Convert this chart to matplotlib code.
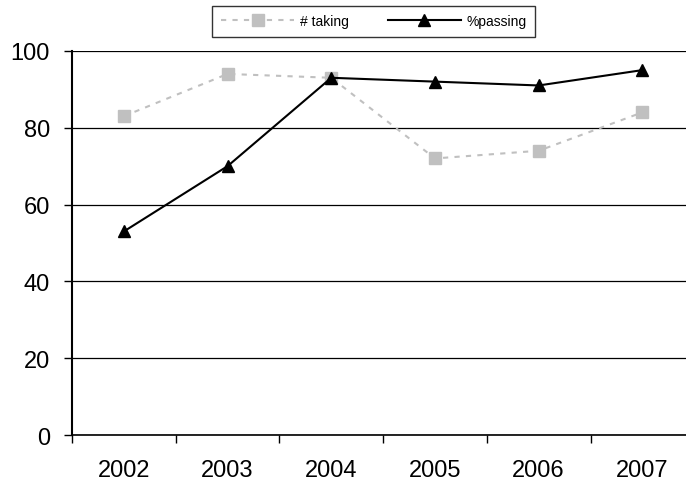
import matplotlib.pyplot as plt
import numpy as np

plt.rcParams['font.family'] = ['Liberation Sans', 'DejaVu Sans']

years = ["2002", "2003", "2004", "2005", "2006", "2007"]
taking = [83, 94, 93, 72, 74, 84]
passing = [53, 70, 93, 92, 91, 95]

x = np.arange(len(years))

fig = plt.figure(figsize=(6.86, 4.85), dpi=100)
ax = fig.add_axes([0.105, 0.101, 0.907, 0.792])

ax.plot(x, taking, color="#C0C0C0", linestyle=(0, (2.5, 3)), linewidth=1.5,
        marker="s", markersize=8.5, label="# taking", zorder=3)
ax.plot(x, passing, color="black", linewidth=1.5,
        marker="^", markersize=9, label="%passing", zorder=4)

ax.set_xlim(-0.5, len(years) - 0.5)
ax.set_ylim(0, 100)
ax.set_yticks(range(0, 101, 20))
ax.yaxis.grid(True, color="black", linewidth=0.9)
ax.set_axisbelow(True)

# category boundaries as major ticks, labels on minor ticks at centers
ax.set_xticks(np.arange(-0.5, len(years), 1.0))
ax.set_xticklabels([])
ax.set_xticks(x, minor=True)
ax.set_xticklabels(years, minor=True)
ax.tick_params(axis="x", which="major", direction="out", length=6, width=1)
ax.tick_params(axis="x", which="minor", length=0, pad=17, labelsize=17)
ax.tick_params(axis="y", direction="out", length=6, width=1, pad=10, labelsize=17)

for s in ["top", "right"]:
    ax.spines[s].set_visible(False)
ax.spines["left"].set_linewidth(1.5)
ax.spines["bottom"].set_linewidth(1.2)

leg = fig.legend(loc="upper center", bbox_to_anchor=(0.545, 1.0), ncol=2,
                 fontsize=10, frameon=True, fancybox=False, edgecolor="black",
                 handlelength=5.3, handletextpad=0.4, columnspacing=2.8,
                 borderpad=0.6)
leg.get_frame().set_linewidth(1.0)

fig.savefig("out.png", dpi=100)
